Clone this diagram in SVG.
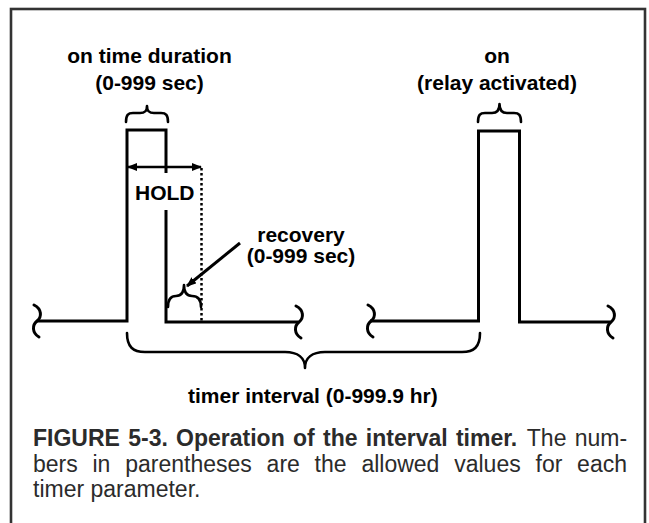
<svg xmlns="http://www.w3.org/2000/svg" xmlns:xlink="http://www.w3.org/1999/xlink" width="649" height="523" viewBox="0 0 649 523">
  <style>
    .wave { fill: none; stroke: #000; stroke-width: 3; stroke-linejoin: miter; }
    .brace { fill: none; stroke: #000; stroke-width: 2.6; stroke-linecap: round; stroke-linejoin: round; }
    .lbl { font-family: "Liberation Sans", Arial, sans-serif; font-weight: bold; font-size: 21px; fill: #000; }
    .cap { font-family: "Liberation Sans", Arial, sans-serif; font-size: 23px; fill: #2b2b2b; }
    .b { font-weight: bold; }
  </style>
  <defs>
    <marker id="ah" viewBox="0 0 10 8" refX="9" refY="4" markerWidth="10" markerHeight="8" markerUnits="userSpaceOnUse" orient="auto-start-reverse">
      <path d="M0,0 L10,4 L0,8 z" fill="#000"/>
    </marker>
    <path id="sq" d="M-3,-16 C5,-12 5,-4 0,0 C-5,4 -5,12 2,16" fill="none" stroke="#000" stroke-width="3" stroke-linecap="round"/>
  </defs>
  <rect x="0" y="0" width="649" height="523" fill="#fff"/>
  <g id="frame">
    <rect x="11" y="9" width="634" height="540" fill="none" stroke="#333" stroke-width="2.6"/>
  </g>
  <g id="waveform">
    <path class="wave" d="M37,321 H127 V130 H166 V173 M166,210 V322 H298"/>
    <path class="wave" d="M370,321 H478.5 V131 H519.5 V322 H610"/>
    <use xlink:href="#sq" x="37" y="321"/>
    <use xlink:href="#sq" x="299" y="322"/>
    <use xlink:href="#sq" x="371" y="321"/>
    <use xlink:href="#sq" x="611" y="322"/>
  </g>
  <g id="connectors">
    <line x1="128" y1="167" x2="201" y2="167" stroke="#000" stroke-width="2.5" marker-start="url(#ah)" marker-end="url(#ah)"/>
    <line x1="201.5" y1="168" x2="201.5" y2="321" stroke="#000" stroke-width="2.5" stroke-dasharray="2.5 2.5"/>
    <line x1="240" y1="243" x2="187" y2="286" stroke="#000" stroke-width="3" marker-end="url(#ah)"/>
    <path class="brace" d="M126,122 C126,115 128,113 133,113 H140 C145,113 147,111 147,106 C147,111 149,113 154,113 H161 C166,113 168,115 168,122"/>
    <path class="brace" d="M478,122 C478,115 480,113 485,113 H492 C497,113 499.5,110 499.5,104 C499.5,110 502,113 507,113 H514 C519,113 521,115 521,122"/>
    <path class="brace" d="M168,307 C168,299 171,296 176,296 C181,296 184,292 184,285 C184,292 187,296 192,296 C197,296 201,299 201,307"/>
    <path class="brace" d="M127,333 C127,347 133,352 145,352 H285 C298,352 305,358 305,368 C305,358 312,352 325,352 H462 C474,352 480,347 480,333"/>
  </g>
  <g id="label-on-time">
    <text class="lbl" x="149.5" y="63" text-anchor="middle">on time duration</text>
    <text class="lbl" x="149.5" y="90" text-anchor="middle">(0-999 sec)</text>
  </g>
  <g id="label-on">
    <text class="lbl" x="497" y="63" text-anchor="middle">on</text>
    <text class="lbl" x="497" y="90" text-anchor="middle">(relay activated)</text>
  </g>
  <g id="label-hold">
    <text class="lbl" x="135" y="200">HOLD</text>
  </g>
  <g id="label-recovery">
    <text class="lbl" x="301" y="242" text-anchor="middle">recovery</text>
    <text class="lbl" x="301" y="263" text-anchor="middle">(0-999 sec)</text>
  </g>
  <g id="label-interval">
    <text class="lbl" x="188" y="403">timer interval (0-999.9 hr)</text>
  </g>
  <g id="caption">
    <text class="cap" y="446"><tspan class="b" x="33">FIGURE</tspan><tspan class="b" x="128.2">5-3.</tspan><tspan class="b" x="176.1">Operation</tspan><tspan class="b" x="293">of</tspan><tspan class="b" x="323">the</tspan><tspan class="b" x="365.8">interval</tspan><tspan class="b" x="455.9">timer.</tspan><tspan x="526.8">The</tspan><tspan x="574.7">num-</tspan></text>
    <text class="cap" y="471.5"><tspan x="33">bers</tspan><tspan x="92.5">in</tspan><tspan x="125.2">parentheses</tspan><tspan x="266.6">are</tspan><tspan x="314.6">the</tspan><tspan x="361.4">allowed</tspan><tspan x="454.2">values</tspan><tspan x="535.5">for</tspan><tspan x="577.1">each</tspan></text>
    <text class="cap" x="33" y="497">timer parameter.</text>
  </g>
</svg>
